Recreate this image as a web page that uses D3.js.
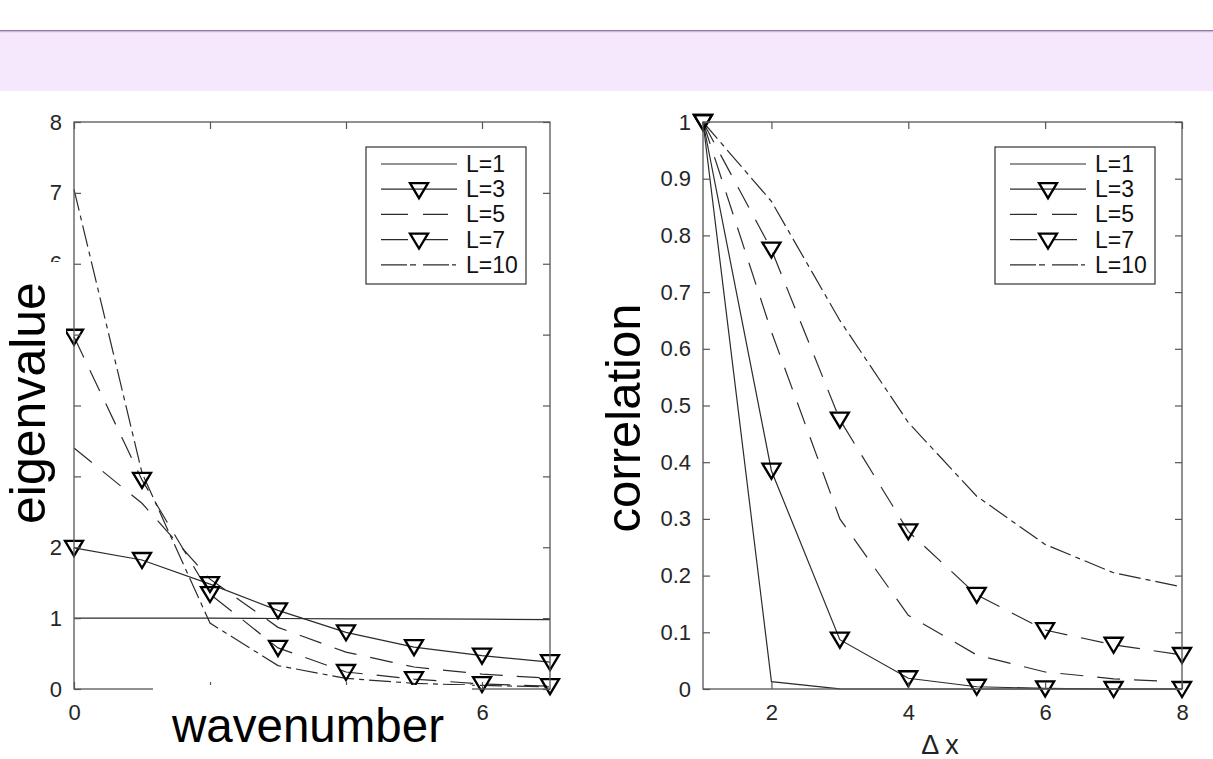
<!DOCTYPE html>
<html>
<head>
<meta charset="utf-8">
<script src="https://cdn.jsdelivr.net/npm/d3@7"></script>
<style>
  html, body { margin: 0; padding: 0; background: #fff; }
  svg { display: block; font-family: "Liberation Sans", Arial, Helvetica, sans-serif; }
</style>
</head>
<body>
<svg id="chart" width="1213" height="759"></svg>
<script>
// ---------------------------------------------------------------------------
// Data
// ---------------------------------------------------------------------------

const seriesNames = ["L=1", "L=3", "L=5", "L=7", "L=10"];

// Left panel: eigenvalue vs wavenumber
const wavenumbers = [0, 1, 2, 3, 4, 5, 6, 7];
const eigL1 = [1.0, 1.0, 1.0, 0.995, 0.99, 0.99, 0.985, 0.98];
const eigL3 = [1.99, 1.82, 1.48, 1.11, 0.8, 0.59, 0.47, 0.38];
const eigL5 = [3.4, 2.62, 1.55, 0.87, 0.52, 0.31, 0.21, 0.15];
const eigL7 = [4.97, 2.95, 1.34, 0.58, 0.24, 0.14, 0.07, 0.04];
const eigL10 = [7.05, 3.05, 0.93, 0.33, 0.15, 0.08, 0.05, 0.03];

// Right panel: correlation vs Δx
const deltaX = [1, 2, 3, 4, 5, 6, 7, 8];
const corL1 = [1, 0.013, 0.0003, 0, 0, 0, 0, 0];
const corL3 = [1, 0.385, 0.087, 0.019, 0.004, 0.001, 0.0, 0.0];
const corL5 = [1, 0.63, 0.3, 0.13, 0.06, 0.03, 0.018, 0.012];
const corL7 = [1, 0.775, 0.475, 0.278, 0.166, 0.104, 0.078, 0.06];
const corL10 = [1, 0.86, 0.65, 0.47, 0.34, 0.255, 0.205, 0.18];

const eigTicksY = [0, 1, 2, 3, 4, 5, 6, 7, 8];
const eigTicksX = [0, 2, 4, 6];
const corTicksY = [0, 0.1, 0.2, 0.3, 0.4, 0.5, 0.6, 0.7, 0.8, 0.9, 1];
const corTicksX = [2, 4, 6, 8];

// tick labels that the pasted axis titles cover in the figure
const eigHiddenY = [3, 4, 5];
const eigHiddenX = [2, 4];

// Line styles per series (index matches seriesNames)
const styles = [
  { dash: null, legendDash: null, marker: false, legendEnd: 91 },
  { dash: null, legendDash: null, marker: true, legendEnd: 91 },
  { dash: "23,14", legendDash: "27,15", marker: false, legendEnd: 82 },
  { dash: "23,14", legendDash: "27,15", marker: true, legendEnd: 82 },
  { dash: "22,5,5,5", legendDash: "26,3,6,7", marker: false, legendEnd: 90 }
];

const svg = d3.select("#chart");
const FONT_TICK = 22;
const LINE_COLOR = "#2b2b2b";
const AXIS_COLOR = "#555";

// ---------------------------------------------------------------------------
// Slide header band
// ---------------------------------------------------------------------------
svg.append("rect").attr("x", 0).attr("y", 31).attr("width", 1213).attr("height", 60)
  .attr("fill", "#f5e7fc");
svg.append("rect").attr("x", 0).attr("y", 30).attr("width", 1213).attr("height", 1.2)
  .attr("fill", "#8c7a9c");
svg.append("rect").attr("x", 0).attr("y", 31.2).attr("width", 1213).attr("height", 1)
  .attr("fill", "#c9b3d8");

// triangle pointing down, centred on the data point
const triPath = "M-9,-7L9,-7L0,8Z";

function drawPanel(opts) {
  const { x, y, xs, series, ticksX, ticksY, fmtX, fmtY, legendX, legendY } = opts;
  const [x0, x1] = x.range();
  const [y0, y1] = y.range(); // y0 = bottom

  const g = svg.append("g");

  // series lines
  const line = d3.line().x((d) => x(d[0])).y((d) => y(d[1]));
  series.forEach((vals, i) => {
    const pts = xs.map((v, j) => [v, vals[j]]);
    g.append("path")
      .datum(pts)
      .attr("d", line)
      .attr("fill", "none")
      .attr("stroke", LINE_COLOR)
      .attr("stroke-width", 1.2)
      .attr("stroke-dasharray", styles[i].dash);
  });

  // markers
  series.forEach((vals, i) => {
    if (!styles[i].marker) return;
    g.append("g")
      .selectAll("path")
      .data(xs.map((v, j) => [v, vals[j]]))
      .join("path")
      .attr("d", triPath)
      .attr("transform", (d) => `translate(${x(d[0])},${y(d[1])})`)
      .attr("fill", "none")
      .attr("stroke", "#000")
      .attr("stroke-width", 2.3)
      .attr("stroke-linejoin", "miter");
  });

  // axes (inward ticks on all four sides)
  const axisStyle = (sel) => {
    sel.select(".domain").remove();
    sel.selectAll(".tick line").attr("stroke", AXIS_COLOR).attr("stroke-width", 1.2);
    sel.selectAll(".tick text")
      .attr("fill", "#262626")
      .attr("font-size", FONT_TICK)
      .attr("font-family", "'Liberation Sans', Arial, Helvetica, sans-serif");
  };

  svg.append("g").attr("transform", `translate(0,${y0})`)
    .call(d3.axisBottom(x).tickValues(ticksX).tickFormat(fmtX)
      .tickSizeInner(-7).tickSizeOuter(0).tickPadding(15))
    .call(axisStyle);
  svg.append("g").attr("transform", `translate(0,${y1})`)
    .call(d3.axisTop(x).tickValues(ticksX).tickFormat("")
      .tickSizeInner(-7).tickSizeOuter(0))
    .call(axisStyle);
  svg.append("g").attr("transform", `translate(${x0},0)`)
    .call(d3.axisLeft(y).tickValues(ticksY).tickFormat(fmtY)
      .tickSizeInner(-7).tickSizeOuter(0).tickPadding(12))
    .call(axisStyle);
  svg.append("g").attr("transform", `translate(${x1},0)`)
    .call(d3.axisRight(y).tickValues(ticksY).tickFormat("")
      .tickSizeInner(-7).tickSizeOuter(0))
    .call(axisStyle);

  // plot frame
  svg.append("rect")
    .attr("x", x0).attr("y", y1)
    .attr("width", x1 - x0).attr("height", y0 - y1)
    .attr("fill", "none")
    .attr("stroke", AXIS_COLOR)
    .attr("stroke-width", 1.3);

  // legend
  const leg = svg.append("g").attr("transform", `translate(${legendX},${legendY})`);
  leg.append("rect")
    .attr("width", 160).attr("height", 137)
    .attr("fill", "#fff")
    .attr("stroke", "#333")
    .attr("stroke-width", 1.2);
  seriesNames.forEach((name, i) => {
    const ry = 17 + i * 25.2;
    leg.append("line")
      .attr("x1", 15).attr("x2", styles[i].legendEnd)
      .attr("y1", ry).attr("y2", ry)
      .attr("stroke", LINE_COLOR)
      .attr("stroke-width", 1.2)
      .attr("stroke-dasharray", styles[i].legendDash);
    if (styles[i].marker) {
      leg.append("path")
        .attr("d", triPath)
        .attr("transform", `translate(53,${ry + 1})`)
        .attr("fill", styles[i].legendDash ? "#fff" : "none")
        .attr("stroke", "#000")
        .attr("stroke-width", 2.3);
    }
    leg.append("text")
      .attr("x", 100).attr("y", ry + 8)
      .attr("font-size", 23)
      .attr("fill", "#111")
      .text(name);
  });
}

// ---------------------------------------------------------------------------
// Left panel
// ---------------------------------------------------------------------------
const xL = d3.scaleLinear().domain([0, 7]).range([74, 550]);
const yL = d3.scaleLinear().domain([0, 8]).range([689, 122]);
drawPanel({
  x: xL, y: yL, xs: wavenumbers,
  series: [eigL1, eigL3, eigL5, eigL7, eigL10],
  ticksX: eigTicksX, ticksY: eigTicksY,
  fmtX: (d) => (eigHiddenX.includes(d) ? "" : d3.format("d")(d)),
  fmtY: (d) => (eigHiddenY.includes(d) ? "" : d3.format("d")(d)),
  legendX: 366, legendY: 147
});

// ---------------------------------------------------------------------------
// Right panel
// ---------------------------------------------------------------------------
const xR = d3.scaleLinear().domain([1, 8]).range([703, 1182]);
const yR = d3.scaleLinear().domain([0, 1]).range([689, 122]);
drawPanel({
  x: xR, y: yR, xs: deltaX,
  series: [corL1, corL3, corL5, corL7, corL10],
  ticksX: corTicksX, ticksY: corTicksY,
  fmtX: d3.format("d"),
  fmtY: (d) => (d === 0 || d === 1 ? d3.format("d")(d) : d3.format(".1f")(d)),
  legendX: 995, legendY: 147
});

// ---------------------------------------------------------------------------
// Axis titles (the pasted slide labels sit on white boxes)
// ---------------------------------------------------------------------------
svg.append("rect").attr("x", 0).attr("y", 262).attr("width", 66).attr("height", 277).attr("fill", "#fff");
svg.append("text")
  .attr("transform", "translate(45,403) rotate(-90)")
  .attr("text-anchor", "middle")
  .attr("font-size", 50)
  .attr("fill", "#000")
  .text("eigenvalue");

svg.append("rect").attr("x", 153).attr("y", 685).attr("width", 319).attr("height", 74).attr("fill", "#fff");
svg.append("text")
  .attr("x", 308).attr("y", 742)
  .attr("text-anchor", "middle")
  .attr("font-size", 47.5)
  .attr("fill", "#000")
  .text("wavenumber");

svg.append("text")
  .attr("transform", "translate(640,418) rotate(-90)")
  .attr("text-anchor", "middle")
  .attr("font-size", 49)
  .attr("fill", "#000")
  .text("correlation");

svg.append("text")
  .attr("x", 940).attr("y", 754)
  .attr("text-anchor", "middle")
  .attr("font-size", 27)
  .attr("fill", "#222")
  .text("Δ x");
</script>
</body>
</html>
